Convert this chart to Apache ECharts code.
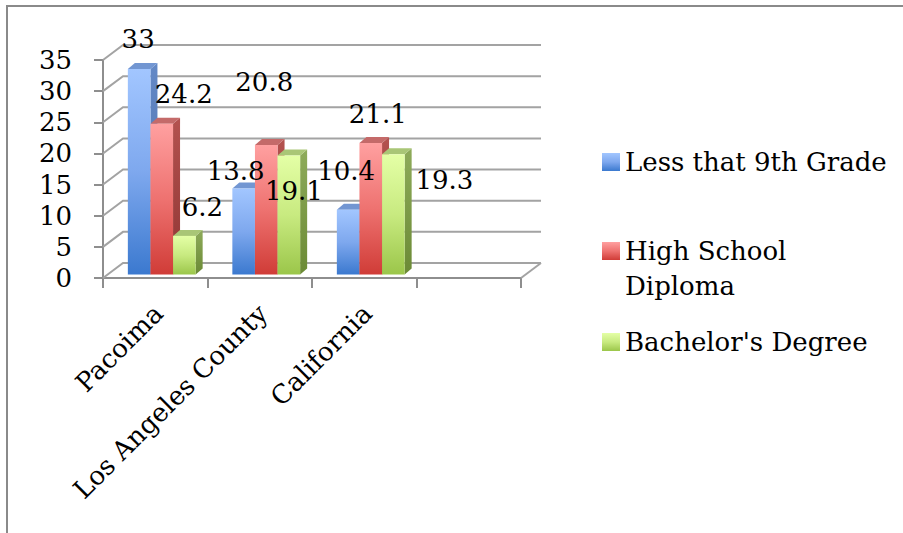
<!DOCTYPE html>
<html>
<head>
<meta charset="utf-8">
<script src="https://cdn.jsdelivr.net/npm/echarts@6/dist/echarts.min.js"></script>
<style>
  html, body { margin: 0; padding: 0; background: #ffffff; }
  #chart { width: 903px; height: 533px; }
</style>
</head>
<body>
<div id="chart"></div>
<script>
// ---- data ----
const categories = ['Pacoima', 'Los Angeles County', 'California', ''];
const seriesNames = ['Less that 9th Grade', 'High School Diploma', "Bachelor's Degree"];
const lessThan9th = [33, 13.8, 10.4];
const highSchool = [24.2, 20.8, 21.1];
const bachelors = [6.2, 19.1, 19.3];
const yTicks = [0, 5, 10, 15, 20, 25, 30, 35];

// data-label nudges (px) for each series, per category
const labelOffsets = [
  [[-1, -15], [-8, -3], [-2, -24]],
  [[22, -15], [-2, -48], [7, -14]],
  [[18, -14], [5, 50], [51, 41]]
];

// ---- styling ----
const FONT = 'DejaVu Serif';
const FONT_SIZE = 26;
const BAR_W = 22.6;            // bar front width
const BAR_DX = 7, BAR_DY = -6; // bar depth offset
const WALL_DX = 20, WALL_DY = -15; // wall depth offset
const GRID_COLOR = '#a3a3a3';
const AXIS_COLOR = '#8e8e8e';
const LEGEND_LINE = 35;        // legend text line height
const SWATCH = 18;             // legend swatch size

const palette = [
  { front: ['#a2c6ff', '#7ea8ee', '#3b79cf'], top: '#7296d2', side: ['#6489c6', '#4a6da8'] },
  { front: ['#ffa0a0', '#ee7270', '#d03c37'], top: '#c46a69', side: ['#b4524f', '#8f3533'] },
  { front: ['#e4ffa6', '#c8ea80', '#9bc64a'], top: '#a9c676', side: ['#8eab5a', '#6b8a35'] }
];

// vertical gradient whose stops are spread over [0, end] of the shape height
function vGrad(stops, end) {
  const e = end === undefined ? 1 : end;
  return new echarts.graphic.LinearGradient(0, 0, 0, 1, stops.map(function (c, i) {
    return { offset: e * i / (stops.length - 1), color: c };
  }));
}

const values = [lessThan9th, highSchool, bachelors];

// front plane: axes, ticks, y labels
const FRONT_GRID = { left: 103, top: 60, width: 418, height: 218 };
// bar plane, slightly behind the front plane
const BAR_GRID = { left: 109.5, top: 56.5, width: 418, height: 218 };

// wall: gridlines drawn from the front axis diagonally back and across
function renderWall(params, api) {
  const cs = params.coordSys;
  const v = api.value(0);
  const y = api.coord([0, v])[1];
  const xl = cs.x, xr = cs.x + cs.width;
  const children = [{
    type: 'polyline',
    shape: { points: [[xl, y], [xl + WALL_DX, y + WALL_DY], [xr + WALL_DX, y + WALL_DY]] },
    style: { stroke: GRID_COLOR, lineWidth: 2, fill: null }
  }];
  if (v === 0) {
    children.push({
      type: 'line',
      shape: { x1: xr, y1: y, x2: xr + WALL_DX, y2: y + WALL_DY },
      style: { stroke: GRID_COLOR, lineWidth: 2 }
    });
  }
  return { type: 'group', children: children };
}

// top and right faces of the bars
function faceRenderer(si) {
  return function (params, api) {
    const cat = api.value(0), v = api.value(1);
    const base = api.coord([cat, 0]);
    const top = api.coord([cat, v]);
    const x0 = base[0] + (si - 1.5) * BAR_W;
    const x1 = x0 + BAR_W;
    const yT = top[1], yB = base[1];
    const p = palette[si];
    return {
      type: 'group',
      children: [
        {
          type: 'polygon',
          shape: { points: [[x1, yT], [x1 + BAR_DX, yT + BAR_DY], [x1 + BAR_DX, yB + BAR_DY], [x1, yB]] },
          style: { fill: vGrad(p.side) }
        },
        {
          type: 'polygon',
          shape: { points: [[x0, yT], [x1, yT], [x1 + BAR_DX, yT + BAR_DY], [x0 + BAR_DX, yT + BAR_DY]] },
          style: { fill: p.top }
        }
      ]
    };
  };
}

const series = [];
series.push({
  type: 'custom',
  name: 'wall',
  xAxisIndex: 0, yAxisIndex: 0,
  data: yTicks.map(function (t) { return [t]; }),
  encode: { y: 0 },
  renderItem: renderWall,
  silent: true,
  z: 1
});
values.forEach(function (vals, si) {
  series.push({
    type: 'custom',
    name: seriesNames[si] + ' faces',
    xAxisIndex: 1, yAxisIndex: 1,
    data: vals.map(function (v, i) { return [i, v]; }),
    encode: { x: 0, y: 1 },
    renderItem: faceRenderer(si),
    silent: true,
    z: 2
  });
});
values.forEach(function (vals, si) {
  series.push({
    type: 'bar',
    name: seriesNames[si],
    xAxisIndex: 1, yAxisIndex: 1,
    barWidth: BAR_W,
    barGap: '0%',
    z: 3,
    itemStyle: { color: vGrad(palette[si].front) },
    label: {
      show: true,
      position: 'top',
      distance: 0,
      fontFamily: FONT,
      fontSize: FONT_SIZE,
      lineHeight: 30,
      color: '#000'
    },
    data: vals.map(function (v, i) {
      return { value: v, label: { offset: labelOffsets[si][i] } };
    })
  });
});

// one legend block per series so each entry sits at its own height.
// The wrapped entry uses a tall item whose swatch sits at the top,
// so the swatch lines up with the first text line.
function legendFor(i, top) {
  const wrapped = seriesNames[i] === 'High School Diploma';
  const itemH = wrapped ? SWATCH + LEGEND_LINE : SWATCH;
  const icon = wrapped
    ? 'path://M0 0H18V18H0Z M0 ' + (itemH - 0.01) + 'H0.01V' + itemH + 'H0Z'
    : 'rect';
  const entry = wrapped
    ? { name: seriesNames[i], itemStyle: { color: vGrad(palette[i].front, SWATCH / itemH) } }
    : seriesNames[i];
  return {
    show: true,
    orient: 'vertical',
    left: 602,
    top: top,
    padding: 0,
    itemWidth: SWATCH,
    itemHeight: itemH,
    icon: icon,
    data: [entry],
    formatter: function (name) {
      return name === 'High School Diploma' ? 'High School\nDiploma' : name;
    },
    textStyle: {
      fontFamily: FONT, fontSize: FONT_SIZE, color: '#000', lineHeight: LEGEND_LINE
    },
    selectedMode: false
  };
}

const chart = echarts.init(document.getElementById('chart'), null, { renderer: 'svg' });
chart.setOption({
  animation: false,
  backgroundColor: '#ffffff',
  textStyle: { fontFamily: FONT },
  grid: [
    Object.assign({ containLabel: false }, FRONT_GRID),
    Object.assign({ containLabel: false }, BAR_GRID)
  ],
  xAxis: [
    {
      gridIndex: 0, type: 'category', data: categories, boundaryGap: true,
      axisLine: { show: true, lineStyle: { color: AXIS_COLOR, width: 2 } },
      axisTick: { show: true, length: 10, interval: 0, lineStyle: { color: AXIS_COLOR, width: 2 } },
      axisLabel: { show: false },
      splitLine: { show: false }
    },
    {
      gridIndex: 1, type: 'category', data: categories, boundaryGap: true,
      axisLine: { show: false }, axisTick: { show: false },
      axisLabel: {
        show: true, interval: 0, rotate: 45, margin: 31, padding: [0, 5, 0, 0],
        fontFamily: FONT, fontSize: FONT_SIZE, color: '#000'
      },
      splitLine: { show: false }
    }
  ],
  yAxis: [
    {
      gridIndex: 0, type: 'value', min: 0, max: 35, interval: 5,
      axisLine: { show: true, lineStyle: { color: AXIS_COLOR, width: 2 } },
      axisTick: { show: true, length: 9, lineStyle: { color: AXIS_COLOR, width: 2 } },
      axisLabel: { show: true, margin: 31, fontFamily: FONT, fontSize: FONT_SIZE, color: '#000' },
      splitLine: { show: false }
    },
    {
      gridIndex: 1, type: 'value', min: 0, max: 35, interval: 5, show: false,
      splitLine: { show: false }
    }
  ],
  legend: [
    legendFor(0, 144.5),
    legendFor(1, 233.5),
    legendFor(2, 324.5)
  ],
  graphic: [{
    type: 'polyline',
    shape: { points: [[7, 533], [7, 6], [903, 6]] },
    style: { stroke: '#8a8a8a', lineWidth: 2, fill: null },
    silent: true
  }],
  series: series
});
</script>
</body>
</html>
